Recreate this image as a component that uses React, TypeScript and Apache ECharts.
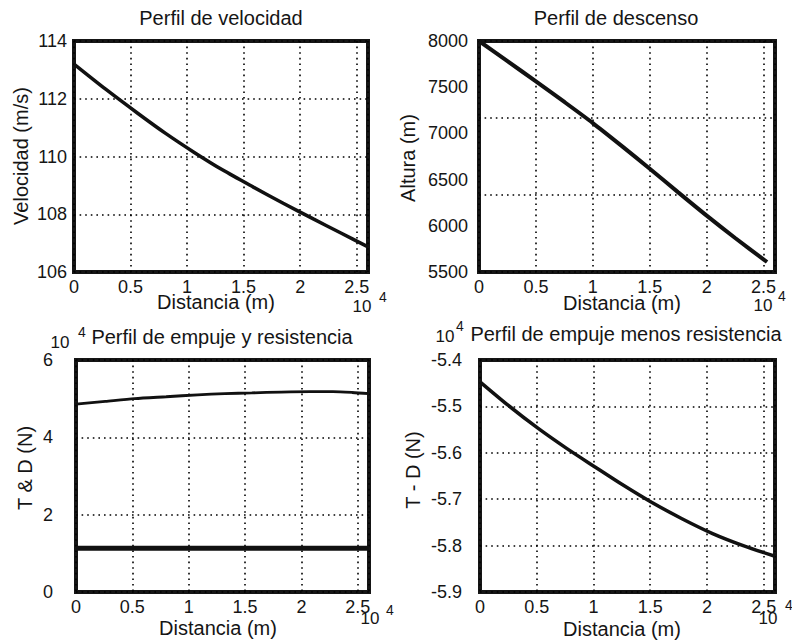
import React, { useEffect, useRef } from "react";
import * as echarts from "echarts";

// ---- data ----
const velDist = [0, 2800, 5660, 8100, 10600, 13200, 15860, 18500, 21160, 23600, 26000];
const velValues = [113.2, 112.33, 111.49, 110.8, 110.15, 109.52, 108.94, 108.38, 107.84, 107.35, 106.87];

const altDist = [0, 2500, 5000, 7500, 10000, 12500, 15000, 17500, 20000, 22500, 25300];
const altValues = [8000, 7782, 7563, 7340, 7112, 6868, 6618, 6362, 6110, 5868, 5608];

const thrustDist = [0, 2600, 5200, 8000, 10800, 13200, 15600, 18200, 20800, 22800, 24500, 26000];
const thrustValues = [4.86, 4.93, 5.0, 5.05, 5.1, 5.13, 5.15, 5.17, 5.18, 5.18, 5.16, 5.13];
const dragDist = [0, 13000, 26000];
const dragValues = [1.13, 1.13, 1.13];

const netDist = [0, 2500, 5100, 7600, 10100, 12500, 15000, 17800, 20500, 23200, 26000];
const netValues = [-5.447, -5.498, -5.547, -5.59, -5.63, -5.668, -5.705, -5.742, -5.774, -5.8, -5.823];

const titles = [
  "Perfil de velocidad",
  "Perfil de descenso",
  "Perfil de empuje y resistencia",
  "Perfil de empuje menos resistencia",
];
const yNames = ["Velocidad (m/s)", "Altura (m)", "T & D (N)", "T - D (N)"];
const xName = "Distancia (m)";
const expBase = "10";
const expPow = "4";

const yRanges = [
  [106, 114, 2],
  [5500, 8000, 500],
  [0, 6, 2],
  [-5.9, -5.4, 0.1],
];
const xRange = [0, 26000, 5000];

const FONT = '"Liberation Sans", Arial, Helvetica, sans-serif';
const INK = "#151515";

const pair = (xs: number[], ys: number[]) => xs.map((x, i) => [x, ys[i]]);

export default function App() {
  const ref = useRef<HTMLDivElement>(null);
  useEffect(() => {
    if (!ref.current) return;
    const chart = echarts.init(ref.current, null, { renderer: "svg" });

    const grids = [
      { left: 74, top: 41, width: 294, height: 231 },
      { left: 479, top: 41, width: 296, height: 231 },
      { left: 76, top: 360, width: 293, height: 232 },
      { left: 480, top: 360, width: 295, height: 232 },
    ];
    const yMargins = [7, 11, 23, 18];

    const splitStyle = {
      show: true,
      lineStyle: { color: "#000", width: 1.6, type: [1.6, 4] as any },
    };

    const xAxes = grids.map((_, i) => ({
      type: "value",
      gridIndex: i,
      min: xRange[0],
      max: xRange[1],
      interval: xRange[2],
      axisLine: { show: false },
      axisTick: { show: false },
      splitLine: splitStyle,
      axisLabel: {
        margin: 6,
        showMaxLabel: false,
        fontFamily: FONT,
        fontSize: 18,
        color: INK,
        formatter: (v: number) => (v % 5000 === 0 ? String(v / 10000) : ""),
      },
    }));

    const yAxes: any[] = grids.map((_, i) => ({
      type: "value",
      gridIndex: i,
      min: yRanges[i][0],
      max: yRanges[i][1],
      interval: yRanges[i][2],
      axisLine: { show: false },
      axisTick: { show: false },
      splitLine: i === 1 ? { show: false } : splitStyle,
      axisLabel: {
        margin: yMargins[i],
        fontFamily: FONT,
        fontSize: 18,
        color: INK,
        showMinLabel: true,
        showMaxLabel: true,
        formatter: (v: number) => (i === 3 ? v.toFixed(1) : String(Math.round(v))),
      },
    }));
    // grid-only helper axis for panel 2 (dividing lines at thirds)
    yAxes.push({
      type: "value",
      gridIndex: 1,
      min: 0,
      max: 3,
      interval: 1,
      axisLine: { show: false },
      axisTick: { show: false },
      axisLabel: { show: false },
      splitLine: splitStyle,
    });

    const lineSeries = (xi: number, data: number[][], width: number) => ({
      type: "line",
      xAxisIndex: xi,
      yAxisIndex: xi,
      data,
      smooth: 0.25,
      showSymbol: false,
      lineStyle: { color: "#111", width },
      z: 5,
    });

    const txt = (
      text: string,
      x: number,
      y: number,
      size: number,
      rotate = 0
    ) => ({
      type: "text",
      x,
      y,
      rotation: rotate,
      z: 10,
      style: {
        text,
        fill: INK,
        font: `${size}px ${FONT}`,
        textAlign: "center",
        textVerticalAlign: "middle",
      },
    });

    const graphic = [
      // titles
      txt(titles[0], 221, 18, 20),
      txt(titles[1], 616, 18, 20),
      txt(expBase, 60, 342, 17),
      txt(expPow, 82, 332, 14),
      txt(titles[2], 222, 337, 20),
      txt(expBase, 445, 336, 17),
      txt(expPow, 460, 326, 14),
      txt(titles[3], 626, 334, 20),
      // y names
      txt(yNames[0], 21, 156, 20, Math.PI / 2),
      txt(yNames[1], 408, 158, 20, Math.PI / 2),
      txt(yNames[2], 25, 468, 20, Math.PI / 2),
      txt(yNames[3], 413, 470, 20, Math.PI / 2),
      // x names
      txt(xName, 216, 302, 20),
      txt(xName, 622, 303, 20),
      txt(xName, 218, 628, 20),
      txt(xName, 622, 629, 20),
      // exponents
      txt(expBase, 362, 306, 17),
      txt(expPow, 383, 297, 14),
      txt(expBase, 763, 305, 17),
      txt(expPow, 782, 296, 14),
      txt(expBase, 370, 618, 17),
      txt(expPow, 390, 610, 14),
      txt(expBase, 768, 618, 17),
      txt(expPow, 789, 605, 14),
    ];

    chart.setOption({
      animation: false,
      backgroundColor: "#ffffff",
      grid: grids.map((g) => ({
        ...g,
        show: true,
        borderColor: "#151515",
        borderWidth: 4,
        backgroundColor: "transparent",
        containLabel: false,
      })),
      xAxis: xAxes,
      yAxis: yAxes,
      series: [
        lineSeries(0, pair(velDist, velValues), 3.5),
        lineSeries(1, pair(altDist, altValues), 4),
        lineSeries(2, pair(thrustDist, thrustValues), 2.8),
        lineSeries(2, pair(dragDist, dragValues), 5),
        lineSeries(3, pair(netDist, netValues), 3.5),
      ],
      graphic,
    });
    return () => chart.dispose();
  }, []);

  return (
    <div
      ref={ref}
      style={{ position: "fixed", left: 0, top: 0, width: 792, height: 641, background: "#fff" }}
    />
  );
}
